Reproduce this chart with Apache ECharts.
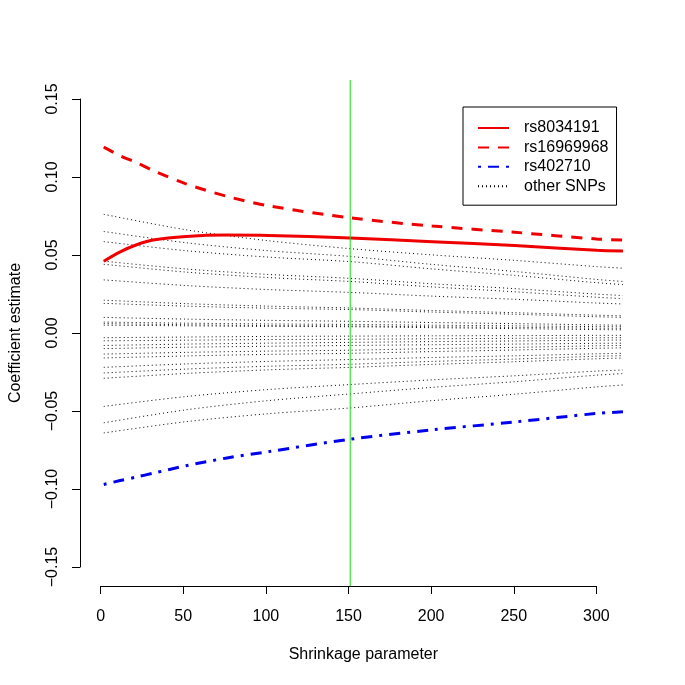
<!DOCTYPE html>
<html>
<head>
<meta charset="utf-8">
<script src="https://cdn.jsdelivr.net/npm/echarts@6/dist/echarts.min.js"></script>
<style>html,body{margin:0;padding:0;background:#fff}#c{width:685px;height:685px}</style>
</head>
<body>
<div id="c"></div>
<script>
// ---- data ----
const xFine = [0, 10, 20, 30, 50, 75, 100, 150, 200, 250, 300, 316];
const xCoarse = [0, 50, 100, 150, 200, 250, 300, 316];
const rs8034191 = [0.046, 0.052, 0.0565, 0.0595, 0.0618, 0.0627, 0.0625, 0.0608, 0.0585, 0.056, 0.053, 0.0525];
const rs16969968 = [0.119, 0.1135, 0.109, 0.104, 0.0955, 0.0875, 0.0815, 0.0737, 0.0685, 0.0645, 0.0602, 0.0595];
const rs402710 = [-0.097, -0.0945, -0.0922, -0.0898, -0.085, -0.080, -0.076, -0.068, -0.062, -0.057, -0.0515, -0.0505];
const otherSNPs = [
  [0.076, 0.0661, 0.0591, 0.054, 0.050, 0.0465, 0.0425, 0.0415],
  [0.065, 0.0578, 0.0527, 0.049, 0.0439, 0.0394, 0.0343, 0.033],
  [0.0585, 0.0527, 0.0486, 0.0457, 0.041, 0.0369, 0.0322, 0.031],
  [0.046, 0.041, 0.0375, 0.035, 0.0315, 0.0284, 0.0249, 0.024],
  [0.044, 0.039, 0.0355, 0.033, 0.0295, 0.0264, 0.0229, 0.022],
  [0.034, 0.0304, 0.0278, 0.026, 0.0236, 0.0216, 0.0192, 0.0186],
  [0.021, 0.0188, 0.0172, 0.016, 0.0144, 0.013, 0.0114, 0.011],
  [0.019, 0.0172, 0.0159, 0.015, 0.0134, 0.012, 0.0104, 0.010],
  [0.010, 0.0089, 0.0081, 0.0075, 0.0067, 0.006, 0.0052, 0.005],
  [0.007, 0.0063, 0.0058, 0.0055, 0.005, 0.0046, 0.0041, 0.004],
  [0.006, 0.0053, 0.0048, 0.0045, 0.004, 0.0036, 0.0031, 0.003],
  [0.005, 0.0046, 0.0042, 0.004, 0.0034, 0.0028, 0.0022, 0.002],
  [-0.003, -0.0026, -0.0022, -0.002, -0.0018, -0.0017, -0.0015, -0.0015],
  [-0.005, -0.0046, -0.0042, -0.004, -0.0037, -0.0034, -0.0031, -0.003],
  [-0.008, -0.0071, -0.0065, -0.006, -0.0055, -0.0051, -0.0046, -0.0045],
  [-0.010, -0.0091, -0.0085, -0.008, -0.0075, -0.0071, -0.0066, -0.0065],
  [-0.0135, -0.0124, -0.0116, -0.011, -0.010, -0.0092, -0.0082, -0.008],
  [-0.016, -0.0147, -0.0137, -0.013, -0.0119, -0.0109, -0.0098, -0.0095],
  [-0.022, -0.0198, -0.0182, -0.017, -0.0157, -0.0146, -0.0133, -0.013],
  [-0.0256, -0.0231, -0.0213, -0.020, -0.0182, -0.0167, -0.0149, -0.0145],
  [-0.029, -0.0259, -0.0236, -0.022, -0.0201, -0.0184, -0.0165, -0.016],
  [-0.047, -0.0407, -0.0362, -0.033, -0.030, -0.0274, -0.0244, -0.0237],
  [-0.0575, -0.0492, -0.0433, -0.039, -0.0348, -0.0312, -0.027, -0.026],
  [-0.064, -0.0568, -0.0517, -0.048, -0.0433, -0.0392, -0.0345, -0.0333]
];
const chosenLambda = 150;
const xTicks = [0, 50, 100, 150, 200, 250, 300];
const yTicks = [-0.15, -0.10, -0.05, 0.00, 0.05, 0.10, 0.15];
const legendNames = ['rs8034191', 'rs16969968', 'rs402710', 'other SNPs'];

// ---- chart ----
const FONT = '"Liberation Sans", Arial, Helvetica, sans-serif';
const FS = 16;
const GREEN = '#11dd11';
const X_RANGE = [-12.64, 328.64]; // data range 0..316 padded 4% (R style)
const Y_RANGE = [-0.162, 0.162];  // ylim -0.15..0.15 padded 4%
const pair = (xs, ys) => xs.map((x, i) => [x, ys[i]]);
const chart = echarts.init(document.getElementById('c'), null, {renderer: 'canvas'});

const series = [];
otherSNPs.forEach(vals => {
  series.push({
    name: 'other SNPs', type: 'line', xAxisIndex: 0, yAxisIndex: 0,
    data: pair(xCoarse, vals), symbol: 'none', smooth: 0.3,
    lineStyle: {color: '#000', width: 1, type: [1, 3]}, itemStyle: {color: '#000'},
    emphasis: {disabled: true}, silent: true, z: 2
  });
});
series.push({
  name: 'rs8034191', type: 'line', xAxisIndex: 0, yAxisIndex: 0,
  data: pair(xFine, rs8034191), symbol: 'none', smooth: 0.3, emphasis: {disabled: true}, silent: true,
  lineStyle: {color: '#ee0000', width: 3, type: 'solid'}, itemStyle: {color: '#ee0000'}, z: 3
});
series.push({
  name: 'rs16969968', type: 'line', xAxisIndex: 0, yAxisIndex: 0,
  data: pair(xFine, rs16969968), symbol: 'none', smooth: 0.3, emphasis: {disabled: true}, silent: true,
  lineStyle: {color: '#ee0000', width: 3, type: [11, 9]}, itemStyle: {color: '#ee0000'}, z: 3
});
series.push({
  name: 'rs402710', type: 'line', xAxisIndex: 0, yAxisIndex: 0,
  data: pair(xFine, rs402710), symbol: 'none', smooth: 0.3, emphasis: {disabled: true}, silent: true,
  lineStyle: {color: '#0000ee', width: 3, type: [3, 7, 11, 7]}, itemStyle: {color: '#0000ee'}, z: 3
});
// vertical reference line at the chosen shrinkage parameter, across the full plot region
series.push({
  name: 'lambda', type: 'line', xAxisIndex: 0, yAxisIndex: 0,
  data: [[chosenLambda, Y_RANGE[0]], [chosenLambda, Y_RANGE[1]]],
  symbol: 'none', emphasis: {disabled: true}, silent: true, z: 4,
  lineStyle: {color: GREEN, width: 1, type: 'solid'}, itemStyle: {color: GREEN}
});

const fmtY = v => (v < -1e-9 ? '\u2212' : '') + Math.abs(v).toFixed(2);

chart.setOption({
  animation: false,
  backgroundColor: '#fff',
  textStyle: {fontFamily: FONT},
  grid: [
    {left: 79.72, top: 80, width: 564, height: 506, containLabel: false},
    {left: 100.6, top: 99, width: 495.8, height: 468, containLabel: false}
  ],
  xAxis: [
    {type: 'value', gridIndex: 0, min: X_RANGE[0], max: X_RANGE[1],
     axisLine: {show: false}, axisTick: {show: false}, axisLabel: {show: false}, splitLine: {show: false},
     name: 'Shrinkage parameter', nameLocation: 'middle', nameGap: 61,
     nameTextStyle: {fontSize: FS, color: '#000', fontFamily: FONT}},
    {type: 'value', gridIndex: 1, min: 0, max: 300, interval: 50, offset: 19,
     axisLine: {show: true, onZero: false, lineStyle: {color: '#000', width: 1}},
     axisTick: {show: true, length: 8, inside: false, lineStyle: {color: '#000'}},
     axisLabel: {show: true, margin: 23, fontSize: FS, color: '#000', fontFamily: FONT,
                 formatter: v => xTicks.includes(v) ? String(v) : ''},
     splitLine: {show: false}}
  ],
  yAxis: [
    {type: 'value', gridIndex: 0, min: Y_RANGE[0], max: Y_RANGE[1],
     axisLine: {show: false}, axisTick: {show: false}, axisLabel: {show: false}, splitLine: {show: false},
     name: 'Coefficient estimate', nameLocation: 'middle', nameGap: 59, nameRotate: 90,
     nameTextStyle: {fontSize: FS, color: '#000', fontFamily: FONT}},
    {type: 'value', gridIndex: 1, min: -0.15, max: 0.15, interval: 0.05, offset: 20.6,
     axisLine: {show: true, onZero: false, lineStyle: {color: '#000', width: 1}},
     axisTick: {show: true, length: 8, inside: false, lineStyle: {color: '#000'}},
     axisLabel: {show: true, margin: 19, rotate: 90, fontSize: FS, color: '#000', fontFamily: FONT,
                 formatter: v => fmtY(v)},
     splitLine: {show: false}}
  ],
  legend: {
    data: legendNames,
    orient: 'vertical', left: 463, top: 107,
    padding: [13, 8, 11, 14],
    itemWidth: 31, itemHeight: 14, itemGap: 3.4,
    borderColor: '#000', borderWidth: 1, borderRadius: 0,
    backgroundColor: '#fff',
    selectedMode: false,
    itemStyle: {opacity: 0},
    textStyle: {fontSize: FS, color: '#000', fontFamily: FONT, padding: [0, 0, 0, 10]}
  },
  series: series
});
</script>
</body>
</html>
